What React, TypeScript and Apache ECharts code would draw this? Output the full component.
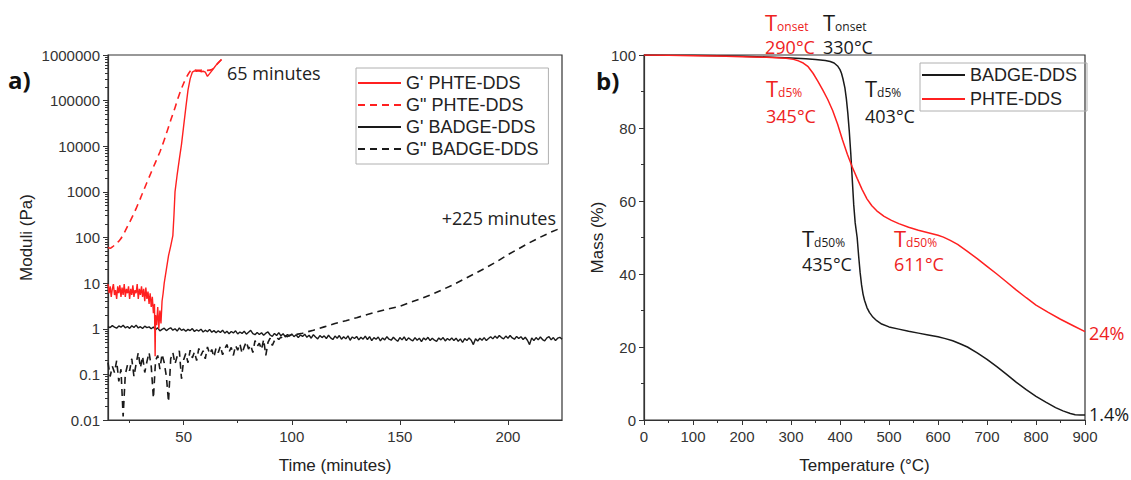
import React, { useEffect, useRef } from 'react';
import * as echarts from 'echarts';

// ---------- Panel a) rheology (time in minutes, moduli in Pa) ----------
const PHTE_GP: [number, number][] = [
  [15, 9.5], [15.5, 6], [16, 8.5], [16.5, 5], [17, 7.5], [17.5, 9.5], [18, 5.5], [18.5, 7], [19, 4.5], [19.5, 8.5],
  [20, 6], [20.5, 9], [21, 5], [21.5, 8], [22, 5.5], [22.5, 9.5], [23, 5], [23.5, 7.5], [24, 6], [24.5, 8.5],
  [25, 4.5], [25.5, 7.5], [26, 5.5], [26.5, 9], [27, 5], [27.5, 7], [28, 6], [28.5, 9.5], [29, 4.5], [29.5, 7.5],
  [30, 5.5], [30.5, 8.5], [31, 5], [31.5, 7.5], [32, 4], [32.5, 8], [33, 4.5], [33.5, 6.5], [34, 3.5], [34.5, 6],
  [35, 3], [35.5, 5], [36, 2.2], [36.5, 3.5], [36.8, 0.25], [37, 2], [37.5, 1.2], [38, 3], [38.5, 1], [39, 2.5],
  [39.5, 1.3], [40, 4], [40.5, 6], [41, 10], [42, 20], [43, 40], [44, 65], [45, 110], [45.5, 300], [46, 1000],
  [47, 2400], [48, 5200], [49, 11000], [50, 28000], [51, 70000], [52, 170000], [53, 300000], [54, 420000],
  [55, 450000], [56, 440000], [57, 450000], [58, 430000], [59, 440000], [60, 420000], [61, 340000], [62, 390000],
  [63, 450000], [64, 520000], [65, 600000], [66, 680000], [67.5, 800000],
];

const PHTE_GPP: [number, number][] = [
  [15, 60], [16, 58], [17, 62], [18, 68], [19, 75], [20, 83], [21, 95], [22, 115], [23, 140], [24, 175],
  [25, 215], [26, 270], [27, 340], [28, 430], [29, 560], [30, 720], [31, 950], [33, 1600], [35, 2700], [37, 4500],
  [39, 7500], [40, 10000], [42, 19000], [44, 37000], [46, 70000], [47, 100000], [48.5, 160000], [50, 240000],
  [51.5, 340000], [53, 440000], [54, 490000], [55, 470000], [57, 460000], [59, 470000], [61, 460000],
  [63, 480000], [65, 600000], [67.5, 800000],
];

// BADGE G' sampled every minute from 15 to 225 min
const BADGE_GP_START = 15;
const BADGE_GP_STEP = 1;
const BADGE_GP_VALUES = [
  1.12, 1.06, 1.17, 1.09, 1.03, 1.15, 1.08, 1.19, 1.05, 1.12,
  1.02, 1.16, 1.07, 1.20, 1.04, 1.11, 1.01, 1.14, 1.06, 1.10,
  1.00, 1.09, 0.95, 1.05, 0.90, 0.97, 1.03, 0.91, 0.99, 1.05,
  0.93, 1.00, 0.89, 1.04, 0.92, 0.98, 0.88, 0.97, 0.91, 1.01,
  0.87, 0.95, 0.89, 0.98, 0.85, 0.93, 0.86, 0.97, 0.84, 0.91,
  0.82, 0.90, 0.83, 0.93, 0.80, 0.88, 0.78, 0.87, 0.81, 0.90,
  0.77, 0.85, 0.79, 0.88, 0.76, 0.84, 0.92, 0.78, 0.74, 0.83,
  0.75, 0.82, 0.72, 0.80, 0.85, 0.73, 0.68, 0.79, 0.71, 0.82,
  0.70, 0.78, 0.66, 0.75, 0.69, 0.77, 0.67, 0.74, 0.64, 0.73,
  0.68, 0.76, 0.65, 0.72, 0.62, 0.74, 0.66, 0.60, 0.71, 0.64,
  0.70, 0.61, 0.72, 0.63, 0.58, 0.69, 0.62, 0.71, 0.59, 0.67,
  0.60, 0.70, 0.56, 0.66, 0.61, 0.68, 0.57, 0.65, 0.59, 0.69,
  0.58, 0.67, 0.55, 0.64, 0.59, 0.66, 0.54, 0.63, 0.57, 0.67,
  0.59, 0.56, 0.65, 0.58, 0.53, 0.64, 0.57, 0.66, 0.55, 0.63,
  0.58, 0.54, 0.64, 0.56, 0.62, 0.52, 0.63, 0.57, 0.65, 0.55,
  0.62, 0.56, 0.53, 0.63, 0.57, 0.64, 0.54, 0.61, 0.56, 0.63,
  0.55, 0.62, 0.53, 0.60, 0.50, 0.61, 0.55, 0.63, 0.56, 0.45,
  0.60, 0.54, 0.62, 0.56, 0.64, 0.55, 0.61, 0.67, 0.60, 0.69,
  0.62, 0.71, 0.64, 0.60, 0.69, 0.62, 0.71, 0.63, 0.59, 0.68,
  0.61, 0.67, 0.58, 0.65, 0.56, 0.45, 0.63, 0.55, 0.64, 0.57,
  0.66, 0.58, 0.54, 0.63, 0.67, 0.57, 0.64, 0.55, 0.62, 0.65,
  0.59,
];

// BADGE G'' noisy part sampled every minute from 15 to 99 min
const BADGE_GPP_START = 15;
const BADGE_GPP_STEP = 1;
const BADGE_GPP_NOISY = [
  0.18, 0.09, 0.15, 0.11, 0.2, 0.07, 0.13, 0.012, 0.1, 0.16,
  0.12, 0.22, 0.09, 0.17, 0.3, 0.14, 0.25, 0.11, 0.19, 0.3,
  0.15, 0.03, 0.2, 0.26, 0.13, 0.28, 0.18, 0.09, 0.025, 0.22,
  0.3, 0.17, 0.25, 0.33, 0.08, 0.21, 0.29, 0.18, 0.34, 0.23,
  0.31, 0.2, 0.37, 0.26, 0.33, 0.22, 0.4, 0.28, 0.35, 0.24,
  0.38, 0.3, 0.42, 0.27, 0.36, 0.45, 0.31, 0.39, 0.26, 0.43,
  0.34, 0.47, 0.29, 0.4, 0.52, 0.36, 0.44, 0.3, 0.55, 0.41,
  0.48, 0.35, 0.58, 0.26, 0.5, 0.62, 0.43, 0.55, 0.65, 0.58,
  0.66, 0.6, 0.7, 0.67, 0.72,
];
const BADGE_GPP_SMOOTH: [number, number][] = [
  [100, 0.72], [105, 0.8], [110, 0.93], [115, 1.1], [120, 1.3], [125, 1.5], [130, 1.75], [135, 2.05],
  [140, 2.4], [145, 2.75], [150, 3.1], [155, 3.8], [160, 4.6], [165, 5.7], [170, 7.3], [175, 9.4],
  [180, 12.5], [185, 16.5], [190, 22], [195, 30], [200, 42], [205, 57], [210, 77], [215, 102],
  [220, 132], [225, 165],
];

const TIME_LABELS = [50, 100, 150, 200];
const TIME_MINOR = [25, 75, 125, 175];

// ---------- Panel b) TGA (temperature °C, mass %) ----------
const BADGE_T = [0, 50, 100, 150, 200, 250, 300, 330, 350, 370, 380, 388, 395, 400, 403, 406, 410, 413, 416, 419, 422, 425, 428, 431, 435, 438, 441, 444, 447, 450, 455, 460, 467, 475, 485, 500, 520, 540, 560, 580, 600, 615, 630, 645, 660, 680, 700, 720, 740, 760, 780, 800, 820, 840, 855, 870, 880, 890, 900];
const BADGE_M = [100, 99.95, 99.9, 99.8, 99.65, 99.45, 99.2, 99.0, 98.8, 98.5, 98.2, 97.8, 97.0, 96.0, 95, 93.5, 91, 88, 84, 79, 73, 66, 59, 54, 50, 45, 40.5, 37, 34.5, 32.8, 30.8, 29.5, 28.2, 27.2, 26.3, 25.5, 24.9, 24.3, 23.8, 23.3, 22.8, 22.3, 21.7, 20.9, 20.0, 18.4, 16.6, 14.6, 12.5, 10.3, 8.3, 6.5, 4.9, 3.4, 2.5, 1.8, 1.45, 1.4, 1.4];

const PHTE_T = [0, 50, 100, 150, 200, 250, 290, 305, 315, 325, 335, 345, 355, 365, 375, 385, 395, 405, 415, 425, 435, 445, 455, 465, 475, 490, 505, 520, 540, 560, 580, 600, 611, 625, 640, 660, 680, 700, 720, 740, 760, 780, 800, 825, 850, 875, 900];
const PHTE_M = [100, 99.9, 99.8, 99.7, 99.55, 99.35, 99.1, 98.8, 98.4, 97.8, 96.8, 95, 92.8, 90.4, 87.8, 84.8, 81.1, 76.8, 72.8, 69.3, 66.2, 63.2, 60.6, 58.7, 57.3, 55.8, 54.7, 53.8, 52.8, 52, 51.3, 50.6, 50.1, 49.2, 48.1, 46.2, 44.2, 42.1, 40, 37.8, 35.6, 33.5, 31.5, 29.5, 27.6, 25.9, 24.2];

const RED = '#ff2020';
const RED_TEXT = '#ee2222';
const DARK = '#1a1a1a';
const AXIS = '#333';
const SANS = '"Liberation Sans", Arial, sans-serif';
const ANN = '"Open Sans", sans-serif';

const stepped = (start: number, step: number, vals: number[]) => vals.map((v, i) => [start + i * step, v]);
const zip = (xs: number[], ys: number[]) => xs.map((x, i) => [x, ys[i]]);

const ann = (text: string, x: number, y: number, size: number, color: string, opts: { bold?: boolean; align?: string } = {}) => ({
  type: 'text',
  x,
  y,
  silent: true,
  z: 100,
  style: {
    text,
    fill: color,
    fontSize: size,
    fontFamily: ANN,
    fontWeight: opts.bold ? 'bold' : 'normal',
    align: opts.align || 'left',
    verticalAlign: 'middle',
    textAlign: opts.align || 'left',
    textVerticalAlign: 'middle',
  },
});

// "T" with a subscript as one rich text
const tsub = (sub: string, x: number, y: number, color: string) => ({
  type: 'text',
  x,
  y,
  silent: true,
  z: 100,
  style: {
    text: `{t|T}{s|${sub}}`,
    fill: color,
    fontFamily: ANN,
    align: 'left',
    verticalAlign: 'middle',
    textAlign: 'left',
    textVerticalAlign: 'middle',
    rich: {
      t: { fontSize: 22, lineHeight: 20, fill: color, color, fontFamily: ANN, verticalAlign: 'middle' },
      s: { fontSize: 12, lineHeight: 12, fill: color, color, fontFamily: ANN, verticalAlign: 'bottom' },
    },
  },
});

export default function App() {
  const ref = useRef<HTMLDivElement>(null);

  useEffect(() => {
    if (!ref.current) return;
    const chart = echarts.init(ref.current, undefined, { renderer: 'svg' });

    const axisLine = { show: true, onZero: false, lineStyle: { color: AXIS, width: 1.2 } };
    const tickLabel = { color: '#333', fontSize: 15, fontFamily: SANS };
    const nameStyle = { color: '#222', fontSize: 17, fontFamily: SANS };
    const legendCommon = {
      orient: 'vertical',
      itemWidth: 43, itemHeight: 14, itemGap: 2,
      borderColor: '#b0b0b0', borderWidth: 1,
      itemStyle: { opacity: 0 },
      selectedMode: false,
    };

    const option: any = {
      animation: false,
      backgroundColor: '#fff',
      textStyle: { fontFamily: SANS },
      grid: [
        { left: 108, top: 55, width: 454, height: 365, show: true, borderColor: AXIS, borderWidth: 1.2, backgroundColor: 'transparent' },
        { left: 644, top: 55, width: 441, height: 365, show: true, borderColor: AXIS, borderWidth: 1.2, backgroundColor: 'transparent' },
        { left: 108, top: 55, width: 454, height: 365, show: false },
      ],
      xAxis: [
        {
          gridIndex: 0, type: 'value', min: 15, max: 225,
          name: 'Time (minutes)', nameLocation: 'middle', nameGap: 37, nameTextStyle: nameStyle,
          axisLine,
          axisTick: { show: true, customValues: TIME_LABELS, length: 5, lineStyle: { color: AXIS } },
          axisLabel: { ...tickLabel, customValues: TIME_LABELS, margin: 9 },
          splitLine: { show: false },
        },
        {
          gridIndex: 1, type: 'value', min: 0, max: 900, interval: 100,
          name: 'Temperature (°C)', nameLocation: 'middle', nameGap: 37, nameTextStyle: nameStyle,
          axisLine,
          axisTick: { show: true, length: 5, lineStyle: { color: AXIS } },
          minorTick: { show: true, splitNumber: 2, length: 3, lineStyle: { color: AXIS } },
          axisLabel: { ...tickLabel, margin: 9 },
          splitLine: { show: false },
        },
        {
          gridIndex: 2, type: 'value', min: 15, max: 225, position: 'bottom',
          axisLine: { show: false },
          axisTick: { show: true, customValues: TIME_MINOR, length: 3, lineStyle: { color: AXIS } },
          axisLabel: { show: false },
          splitLine: { show: false },
        },
      ],
      yAxis: [
        {
          gridIndex: 0, type: 'log', logBase: 10, min: 0.01, max: 1000000,
          name: 'Moduli (Pa)', nameLocation: 'middle', nameGap: 73, nameTextStyle: nameStyle,
          axisLine,
          axisTick: { show: true, length: 5, lineStyle: { color: AXIS } },
          minorTick: { show: true, splitNumber: 9, length: 3, lineStyle: { color: AXIS } },
          axisLabel: {
            ...tickLabel, margin: 8,
            formatter: (v: number) => String(Number(Number(v).toPrecision(6))),
          },
          splitLine: { show: false },
        },
        {
          gridIndex: 1, type: 'value', min: 0, max: 100, interval: 20,
          name: 'Mass (%)', nameLocation: 'middle', nameGap: 38, nameTextStyle: nameStyle,
          axisLine,
          axisTick: { show: true, length: 5, lineStyle: { color: AXIS } },
          minorTick: { show: true, splitNumber: 2, length: 3, lineStyle: { color: AXIS } },
          axisLabel: { ...tickLabel, margin: 8 },
          splitLine: { show: false },
        },
        {
          gridIndex: 2, type: 'value', min: 0, max: 1, show: false,
        },
      ],
      legend: [
        {
          ...legendCommon,
          data: ["G' PHTE-DDS", 'G" PHTE-DDS', "G' BADGE-DDS", 'G" BADGE-DDS'],
          left: 356, top: 68,
          padding: [5, 10, 5, 1],
          textStyle: { fontSize: 18, fontFamily: SANS, color: '#222', lineHeight: 20 },
        },
        {
          ...legendCommon,
          data: ['BADGE-DDS', 'PHTE-DDS'],
          left: 920, top: 63,
          padding: [1, 10, 1, 1],
          textStyle: { fontSize: 18, fontFamily: SANS, color: '#222', lineHeight: 22 },
        },
      ],
      series: [
        {
          name: "G' BADGE-DDS", type: 'line', xAxisIndex: 0, yAxisIndex: 0, symbol: 'none',
          data: stepped(BADGE_GP_START, BADGE_GP_STEP, BADGE_GP_VALUES),
          lineStyle: { color: DARK, width: 1.4 }, itemStyle: { color: DARK },
        },
        {
          name: 'G" BADGE-DDS', type: 'line', xAxisIndex: 0, yAxisIndex: 0, symbol: 'none',
          data: [...stepped(BADGE_GPP_START, BADGE_GPP_STEP, BADGE_GPP_NOISY), ...BADGE_GPP_SMOOTH],
          lineStyle: { color: DARK, width: 1.6, type: [7, 5] }, itemStyle: { color: DARK },
        },
        {
          name: 'G" PHTE-DDS', type: 'line', xAxisIndex: 0, yAxisIndex: 0, symbol: 'none',
          data: PHTE_GPP, smooth: 0.2,
          lineStyle: { color: RED, width: 1.6, type: [7, 5] }, itemStyle: { color: RED },
        },
        {
          name: "G' PHTE-DDS", type: 'line', xAxisIndex: 0, yAxisIndex: 0, symbol: 'none',
          data: PHTE_GP,
          lineStyle: { color: RED, width: 1.4 }, itemStyle: { color: RED },
        },
        {
          name: 'BADGE-DDS', type: 'line', xAxisIndex: 1, yAxisIndex: 1, symbol: 'none',
          data: zip(BADGE_T, BADGE_M),
          lineStyle: { color: DARK, width: 1.5 }, itemStyle: { color: DARK },
        },
        {
          name: 'PHTE-DDS', type: 'line', xAxisIndex: 1, yAxisIndex: 1, symbol: 'none',
          data: zip(PHTE_T, PHTE_M),
          lineStyle: { color: RED, width: 1.5 }, itemStyle: { color: RED },
        },
      ],
      graphic: [
        ann('a)', 8, 79, 24, '#111', { bold: true }),
        ann('b)', 596, 80, 24, '#111', { bold: true }),
        ann('65 minutes', 227, 73, 18, '#222'),
        ann('+225 minutes', 556, 218, 18, '#222', { align: 'right' }),
        tsub('onset', 765, 22, RED_TEXT),
        ann('290°C', 765, 47, 18, RED_TEXT),
        tsub('onset', 823, 22, DARK),
        ann('330°C', 823, 47, 18, DARK),
        tsub('d5%', 766, 88, RED_TEXT),
        ann('345°C', 766, 116, 18, RED_TEXT),
        tsub('d5%', 865, 88, DARK),
        ann('403°C', 865, 116, 18, DARK),
        tsub('d50%', 802, 238, DARK),
        ann('435°C', 802, 264, 18, DARK),
        tsub('d50%', 894, 238, RED_TEXT),
        ann('611°C', 894, 264, 18, RED_TEXT),
        ann('24%', 1089, 333, 18, RED_TEXT),
        ann('1.4%', 1089, 414, 18, DARK),
      ],
    };

    chart.setOption(option);
    return () => chart.dispose();
  }, []);

  return (
    <div
      ref={ref}
      style={{ position: 'absolute', left: 0, top: 0, width: 1131, height: 480, background: '#fff' }}
    />
  );
}
